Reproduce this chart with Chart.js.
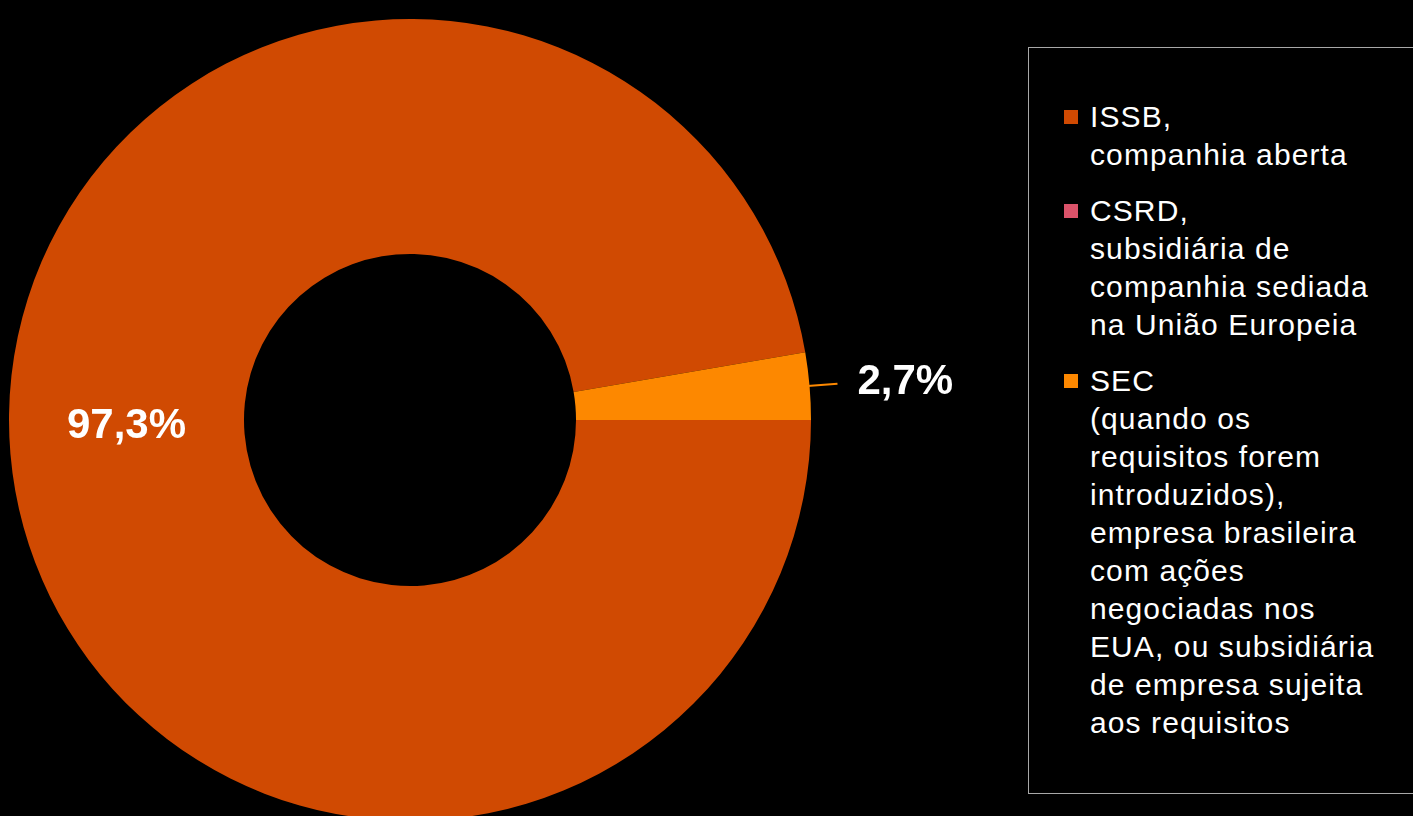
<!DOCTYPE html>
<html>
<head>
<meta charset="utf-8">
<script src="https://cdn.jsdelivr.net/npm/chart.js@4"></script>
<style>
  html, body { margin: 0; padding: 0; background: #000; overflow: hidden; width: 1413px; height: 816px; }
  #grafico { position: absolute; left: 0; top: 0; }
  #legenda {
    position: absolute; left: 1028px; top: 47px; width: 420px; height: 747px;
    border: 1.5px solid #a8a8a8; box-sizing: border-box;
    font-family: "Liberation Sans", Arial, sans-serif; color: #fff;
    font-size: 30px; line-height: 38px; letter-spacing: 1.1px;
    padding-top: 50px;
  }
  .item { position: relative; padding-left: 61px; margin-bottom: 18px; }
  .item .box { position: absolute; left: 35px; top: 12px; width: 14px; height: 14px; }
</style>
</head>
<body>
<canvas id="grafico" width="1000" height="840"></canvas>
<div id="legenda"></div>
<script>
var categorias = ["ISSB", "CSRD", "SEC"];
var valores = [97.3, 0, 2.7];
var rotulos = ["97,3%", "", "2,7%"];
var cores = ["#D04A02", "#DB536A", "#FD8800"];
var legendaTextos = [
    ["ISSB,", "companhia aberta"],
    ["CSRD,", "subsidiária de", "companhia sediada", "na União Europeia"],
    ["SEC", "(quando os", "requisitos forem", "introduzidos),", "empresa brasileira", "com ações", "negociadas nos", "EUA, ou subsidiária", "de empresa sujeita", "aos requisitos"]
];

// rótulos de percentual: dentro da fatia grande, fora (com linha) na pequena
var rotulosPlugin = {
    id: 'rotulos',
    afterDatasetsDraw: function (chart) {
        var ctx = chart.ctx;
        var arcs = chart.getDatasetMeta(0).data;
        ctx.save();
        ctx.font = 'bold 42px "Liberation Sans", Arial, sans-serif';
        ctx.fillStyle = '#fff';
        ctx.textBaseline = 'middle';
        arcs.forEach(function (arc, i) {
            if (!rotulos[i]) return;
            var p = arc.getProps(['x', 'y', 'startAngle', 'endAngle', 'innerRadius', 'outerRadius'], true);
            var meio = (p.startAngle + p.endAngle) / 2;
            if (valores[i] > 50) {
                var r = (p.innerRadius + p.outerRadius) / 2;
                ctx.textAlign = 'center';
                ctx.fillText(rotulos[i], p.x - r, p.y + 6);
            } else {
                var x1 = p.x + Math.cos(meio) * p.outerRadius;
                var y1 = p.y + Math.sin(meio) * p.outerRadius;
                var x2 = p.x + Math.cos(meio) * (p.outerRadius + 28);
                var y2 = p.y + Math.sin(meio) * (p.outerRadius + 28);
                ctx.strokeStyle = cores[i];
                ctx.lineWidth = 2;
                ctx.beginPath();
                ctx.moveTo(x1 - 2, y1);
                ctx.lineTo(x2, y2);
                ctx.stroke();
                ctx.textAlign = 'left';
                ctx.fillText(rotulos[i], x2 + 20, y2 - 1);
            }
        });
        ctx.restore();
    }
};

var ctx = document.getElementById("grafico").getContext('2d');
var grafico = new Chart(ctx, {
    type: 'doughnut',
    data: {
        labels: categorias,
        datasets: [{
            data: valores,
            backgroundColor: cores,
            borderWidth: 0
        }]
    },
    options: {
        responsive: false,
        animation: false,
        devicePixelRatio: 1,
        rotation: 90,
        cutout: '41.4%',
        // espaço extra à direita para o rótulo externo
        layout: { padding: { left: 9, right: 189, top: 9, bottom: 9 } },
        plugins: {
            legend: { display: false },
            tooltip: { enabled: false }
        }
    },
    plugins: [rotulosPlugin]
});

// legenda em HTML, montada a partir dos dados do gráfico
var legenda = document.getElementById("legenda");
grafico.data.labels.forEach(function (nome, i) {
    var item = document.createElement('div');
    item.className = 'item';
    var box = document.createElement('span');
    box.className = 'box';
    box.style.background = grafico.data.datasets[0].backgroundColor[i];
    item.appendChild(box);
    legendaTextos[i].forEach(function (linha, j) {
        if (j > 0) item.appendChild(document.createElement('br'));
        item.appendChild(document.createTextNode(linha));
    });
    legenda.appendChild(item);
});
</script>
</body>
</html>
